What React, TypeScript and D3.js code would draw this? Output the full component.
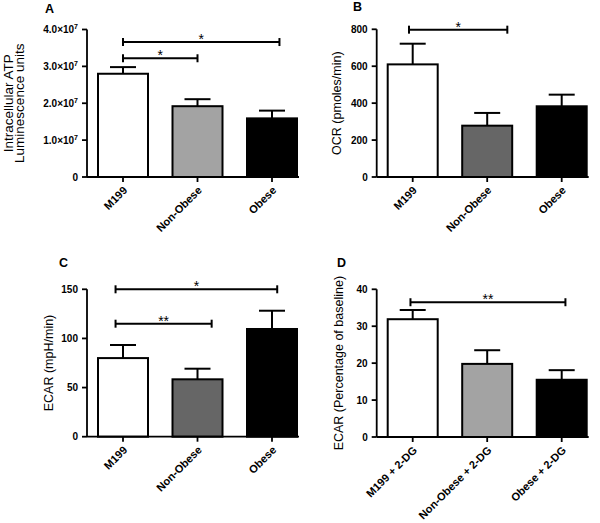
import * as d3 from 'd3'

const groups = ['M199', 'Non-Obese', 'Obese']
const groups2dg = ['M199 + 2-DG', 'Non-Obese + 2-DG', 'Obese + 2-DG']

// A: intracellular ATP (luminescence units)
const atpMean = [2.8e7, 1.92e7, 1.59e7]
const atpSem = [0.18e7, 0.19e7, 0.21e7]
// B: OCR (pmoles/min)
const ocrMean = [610, 278, 383]
const ocrSem = [112, 69, 63]
// C: ECAR (mpH/min)
const ecarMean = [80, 58.4, 109.6]
const ecarSem = [13.3, 10.8, 18.6]
// D: ECAR after 2-DG (% of baseline)
const dgMean = [31.9, 19.8, 15.5]
const dgSem = [2.5, 3.7, 2.6]

// significance brackets: category index from/to, y in data units
const sigA = [
  { from: 0, to: 2.1, y: 3.66e7, label: '*' },
  { from: 0, to: 1.0, y: 3.22e7, label: '*' },
]
const sigB = [{ from: -0.05, to: 1.27, y: 798, label: '*' }]
const sigC = [
  { from: -0.1, to: 2.07, y: 150, label: '*' },
  { from: -0.1, to: 1.19, y: 115, label: '**' },
]
const sigD = [{ from: -0.03, to: 2.05, y: 36.5, label: '**' }]

const FONT = 'Arial, "Liberation Sans", sans-serif'

type Sig = { from: number; to: number; y: number; label: string }

function sciTick(v: number) {
  if (v === 0) return <tspan>0</tspan>
  const m = (v / 1e7).toFixed(1)
  return (
    <>
      <tspan>{m}×10</tspan>
      <tspan fontSize={7} dy={-4}>7</tspan>
    </>
  )
}

function Panel(props: {
  letter: string
  letterX: number
  letterY: number
  axisX: number
  top: number
  bottom: number
  max: number
  step: number
  cats: string[]
  mean: number[]
  sem: number[]
  colors: string[]
  sig: Sig[]
  title: string[]
  titleX: number[]
  titleSize: number
  sci?: boolean
}) {
  const { axisX, top, bottom, max, step, cats, mean, sem, colors, sig } = props
  const y = d3.scaleLinear().domain([0, max]).range([bottom, top])
  const x = d3.scalePoint<string>().domain(cats).range([axisX + 36, axisX + 185])
  const stepPx = x.step()
  const idx = d3.scaleLinear().domain([0, 1]).range([axisX + 36, axisX + 36 + stepPx])
  const ticks = d3.range(0, max + step / 2, step)
  const barW = 50
  const capW = 26
  const midY = (top + bottom) / 2

  return (
    <g fontFamily={FONT}>
      <text x={props.letterX} y={props.letterY} fontSize={12.5} fontWeight="bold">
        {props.letter}
      </text>
      {props.title.map((t, i) => (
        <text
          key={t}
          transform={`translate(${props.titleX[i]},${midY}) rotate(-90)`}
          textAnchor="middle"
          fontSize={props.titleSize}
        >
          {t}
        </text>
      ))}
      {/* bars */}
      {cats.map((c, i) => (
        <g key={c}>
          <line
            x1={x(c)}
            x2={x(c)}
            y1={y(mean[i])}
            y2={y(mean[i] + sem[i])}
            stroke="#000"
            strokeWidth={2}
          />
          <line
            x1={x(c)! - capW / 2}
            x2={x(c)! + capW / 2}
            y1={y(mean[i] + sem[i])}
            y2={y(mean[i] + sem[i])}
            stroke="#000"
            strokeWidth={2}
          />
          <rect
            x={x(c)! - barW / 2}
            width={barW}
            y={y(mean[i])}
            height={bottom - y(mean[i])}
            fill={colors[i]}
            stroke="#000"
            strokeWidth={2}
          />
        </g>
      ))}
      {/* y axis */}
      <line x1={axisX} x2={axisX} y1={top} y2={bottom} stroke="#000" strokeWidth={1.8} />
      {ticks.map((t) => (
        <g key={t}>
          <line x1={axisX - 5} x2={axisX} y1={y(t)} y2={y(t)} stroke="#000" strokeWidth={1.8} />
          <text
            x={axisX - 9}
            y={y(t) + 3.5}
            textAnchor="end"
            fontSize={10}
            fontWeight="bold"
          >
            {props.sci ? sciTick(t) : t}
          </text>
        </g>
      ))}
      {/* x axis */}
      <line x1={axisX} x2={axisX + 212} y1={bottom} y2={bottom} stroke="#000" strokeWidth={1.8} />
      {cats.map((c) => (
        <g key={c}>
          <line x1={x(c)} x2={x(c)} y1={bottom} y2={bottom + 5} stroke="#000" strokeWidth={1.8} />
          <text
            transform={`translate(${x(c)! + 5},${bottom + 14}) rotate(-45)`}
            textAnchor="end"
            fontSize={11}
            fontWeight="bold"
          >
            {c}
          </text>
        </g>
      ))}
      {/* significance */}
      {sig.map((s, i) => {
        const x1 = idx(s.from)
        const x2 = idx(s.to)
        const yy = y(s.y)
        return (
          <g key={i}>
            <line x1={x1} x2={x2} y1={yy} y2={yy} stroke="#000" strokeWidth={2} />
            <line x1={x1} x2={x1} y1={yy - 4} y2={yy + 4} stroke="#000" strokeWidth={2} />
            <line x1={x2} x2={x2} y1={yy - 4} y2={yy + 4} stroke="#000" strokeWidth={2} />
            <text x={(x1 + x2) / 2} y={yy + 2} textAnchor="middle" fontSize={14}>
              {s.label}
            </text>
          </g>
        )
      })}
    </g>
  )
}

export default function App() {
  const light = ['#ffffff', '#a3a3a3', '#000000']
  const dark = ['#ffffff', '#666666', '#000000']
  return (
    <svg
      width={600}
      height={523}
      style={{ position: 'absolute', left: 0, top: 0, background: '#fff' }}
    >
      <Panel
        letter="A"
        letterX={45}
        letterY={13}
        axisX={87}
        top={29.5}
        bottom={177}
        max={4e7}
        step={1e7}
        cats={groups}
        mean={atpMean}
        sem={atpSem}
        colors={light}
        sig={sigA}
        title={['Intracellular ATP', 'Luminescence units']}
        titleX={[12.5, 24]}
        titleSize={13.5}
        sci
      />
      <Panel
        letter="B"
        letterX={353}
        letterY={11}
        axisX={376.7}
        top={29.3}
        bottom={177}
        max={800}
        step={200}
        cats={groups}
        mean={ocrMean}
        sem={ocrSem}
        colors={dark}
        sig={sigB}
        title={['OCR (pmoles/min)']}
        titleX={[341]}
        titleSize={12.5}
      />
      <Panel
        letter="C"
        letterX={59}
        letterY={267}
        axisX={87}
        top={289.3}
        bottom={436.7}
        max={150}
        step={50}
        cats={groups}
        mean={ecarMean}
        sem={ecarSem}
        colors={dark}
        sig={sigC}
        title={['ECAR (mpH/min)']}
        titleX={[53]}
        titleSize={12.5}
      />
      <Panel
        letter="D"
        letterX={337}
        letterY={267}
        axisX={376.7}
        top={289.3}
        bottom={437}
        max={40}
        step={10}
        cats={groups2dg}
        mean={dgMean}
        sem={dgSem}
        colors={light}
        sig={sigD}
        title={['ECAR (Percentage of baseline)']}
        titleX={[343]}
        titleSize={12.5}
      />
    </svg>
  )
}
